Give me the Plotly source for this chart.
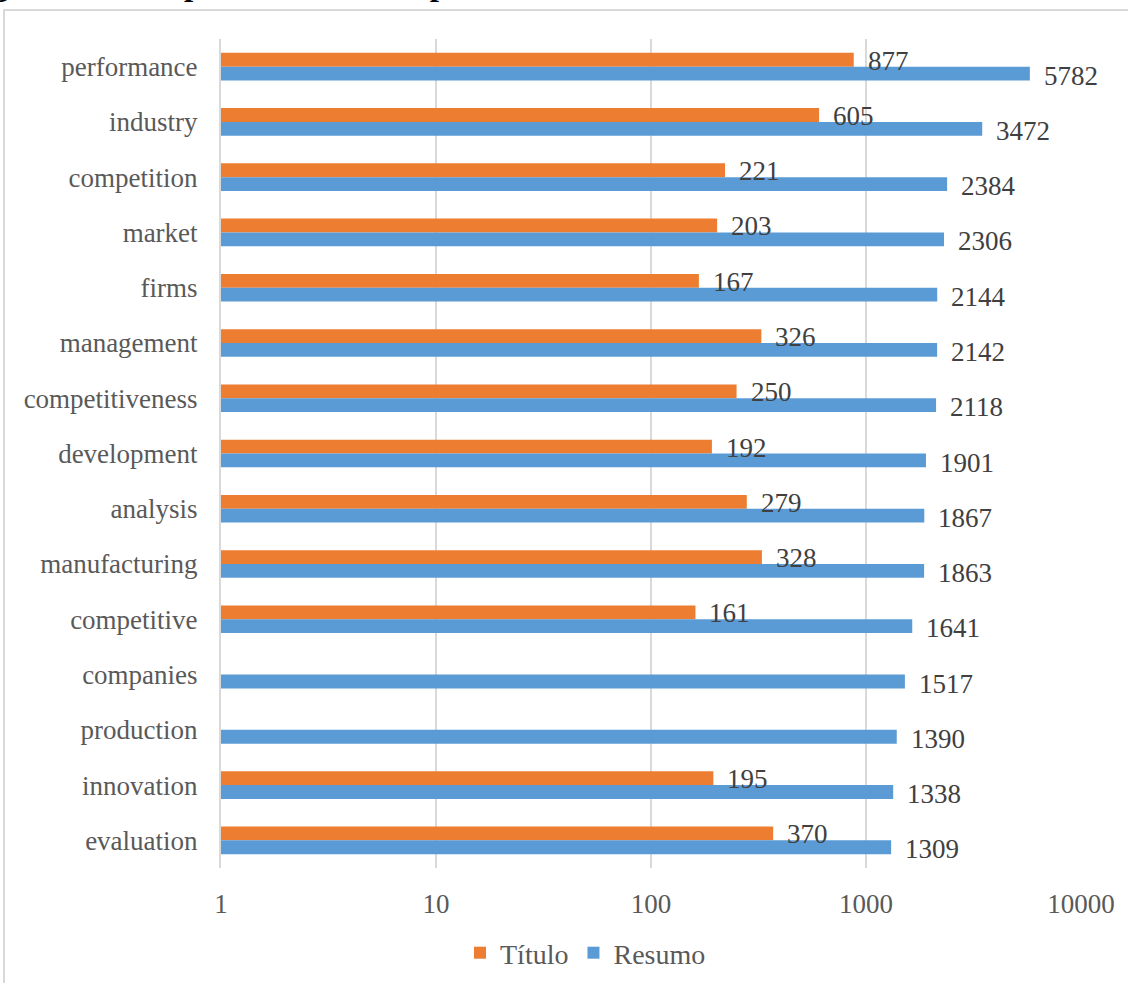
import math
import plotly.graph_objects as go

# Most frequent terms, top to bottom
categories = [
    "performance", "industry", "competition", "market", "firms",
    "management", "competitiveness", "development", "analysis",
    "manufacturing", "competitive", "companies", "production",
    "innovation", "evaluation",
]
titulo = [877, 605, 221, 203, 167, 326, 250, 192, 279, 328, 161, None, None, 195, 370]
resumo = [5782, 3472, 2384, 2306, 2144, 2142, 2118, 1901, 1867, 1863, 1641, 1517, 1390, 1338, 1309]
tick_vals = [1, 10, 100, 1000, 10000]
tick_text = ["1", "10", "100", "1000", "10000"]

ORANGE = "#ED7D31"
BLUE = "#5B9BD5"
SERIF = "Liberation Serif, Times New Roman, serif"

fig = go.Figure()
fig.add_trace(go.Bar(
    y=categories, x=titulo, name="Título", orientation="h",
    marker=dict(color=ORANGE, line=dict(width=0)),
))
fig.add_trace(go.Bar(
    y=categories, x=resumo, name="Resumo", orientation="h",
    marker=dict(color=BLUE, line=dict(width=0)),
))

# plot area spans 221..1081 px horizontally and 39..868 px vertically
L, R, T, B = 221, 47, 39, 115
W, H = 1128, 983
pw, ph = W - L - R, H - T - B


def px_x(p):
    return (p - L) / pw


def px_y(p):
    return (H - B - p) / ph


# value labels sit just past each bar's end, drawn above both series
# (annotation positions on a log axis are given as log10 of the value)
value_labels = []
for series, shift in ((titulo, 6), (resumo, -9)):
    for cat, v in zip(categories, series):
        if v is None:
            continue
        value_labels.append(dict(
            x=math.log10(v), y=cat, xref="x", yref="y", text=str(v),
            showarrow=False, xanchor="left", yanchor="middle",
            xshift=12, yshift=shift,
            font=dict(family=SERIF, size=27, color="#404040"),
        ))

caption = dict(
    text="<b>Figura 7 – Comparativo entre as palavras mais recorrentes nos títulos e nos resumos</b>",
    xref="paper", yref="paper", x=px_x(-39), y=px_y(4),
    xanchor="left", yanchor="bottom", showarrow=False,
    font=dict(family=SERIF, size=33, color="black"),
)

fig.update_layout(
    width=W, height=H,
    margin=dict(l=L, r=R, t=T, b=B, autoexpand=False),
    paper_bgcolor="white", plot_bgcolor="white",
    barmode="group", bargap=0.5, bargroupgap=0,
    font=dict(family=SERIF, color="#595959"),
    xaxis=dict(
        type="log", range=[0, 4],
        tickvals=tick_vals, ticktext=tick_text,
        showgrid=True, gridcolor="#d9d9d9", gridwidth=2,
        showline=False, zeroline=False, ticks="",
        tickfont=dict(family=SERIF, size=27, color="#595959"),
        ticklabelstandoff=17,
    ),
    yaxis=dict(
        autorange="reversed", showgrid=False, zeroline=False,
        showline=True, linecolor="#d9d9d9", linewidth=2, ticks="",
        tickfont=dict(family=SERIF, size=27, color="#595959"),
        ticklabelstandoff=16,
    ),
    legend=dict(
        orientation="h", x=px_x(460), xanchor="left",
        y=px_y(953), yanchor="middle",
        font=dict(family=SERIF, size=28, color="#595959"),
        traceorder="normal",
    ),
    shapes=[dict(
        type="rect", xref="paper", yref="paper",
        x0=px_x(4), x1=px_x(1140), y0=px_y(995), y1=px_y(10),
        line=dict(color="#d9d9d9", width=2), fillcolor="rgba(0,0,0,0)",
        layer="below",
    )],
    annotations=value_labels + [caption],
)

fig.write_html("out.html")
